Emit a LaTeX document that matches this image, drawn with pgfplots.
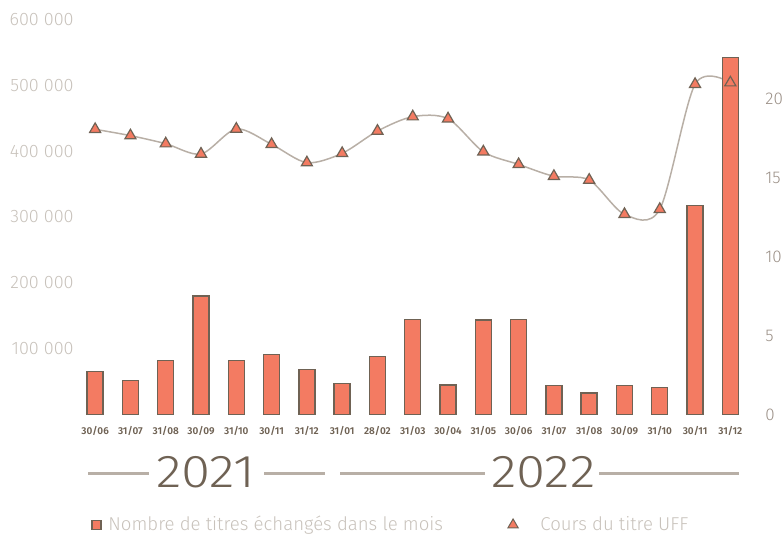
\documentclass[border=0pt]{standalone}
\usepackage{fontspec}
\setmainfont{Fira Sans}[UprightFont=* Light, BoldFont=* SemiBold]
\usepackage{pgfplots}
\usepackage{pgfplotstable}
\pgfplotsset{compat=1.18}

\definecolor{barfill}{HTML}{F37B62}
\definecolor{bardraw}{HTML}{6F6254}
\definecolor{linecol}{HTML}{B8AFA6}
\definecolor{lefttick}{HTML}{C8C2BB}
\definecolor{righttick}{HTML}{9B9087}
\definecolor{datecol}{HTML}{6F6254}

% idx, titres echanges, cours du titre
\pgfplotstableread{
idx titres cours
0  65000  18.05
1  51400  17.65
2  81800  17.14
3  180000 16.49
4  81800  18.07
5  90900  17.10
6  68100  15.94
7  46800  16.53
8  87800  17.94
9  144000 18.85
10 44800  18.72
11 143600 16.63
12 144700 15.83
13 43800  15.08
14 32700  14.84
15 44400  12.67
16 40700  12.99
17 317300 20.90
18 542200 21.00
}\data

\pgfplotsset{
  common/.style={
    scale only axis, width=335.25pt, height=197.5pt,
    at={(38.75pt,60.25pt)}, anchor=south west,
    xmin=-0.5, xmax=18.5,
    axis line style={draw=none}, major tick style={draw=none},
    scaled y ticks=false,
    clip=false,
  }
}

\begin{document}
\begin{tikzpicture}
\path[use as bounding box] (0,0) rectangle (392pt,267.5pt);

% courbe du cours (derriere les barres)
\begin{axis}[common,
    ymin=0, ymax=25,
    hide x axis,
    axis y line*=right,
    ytick={0,5,10,15,20}, yticklabels={0,5,10,15,20},
    yticklabel style={anchor=west, inner sep=0pt, xshift=8.5pt,
      font=\fontsize{8.5}{10}\selectfont, text=righttick}]
  \addplot[smooth, linecol, line width=0.75pt, no marks] table[x=idx, y=cours] {\data};
\end{axis}

% barres
\begin{axis}[common,
    ymin=0, ymax=600000,
    axis y line*=left,
    ytick={100000,200000,300000,400000,500000,600000},
    yticklabels={100 000,200 000,300 000,400 000,500 000,600 000},
    yticklabel style={anchor=east, inner sep=0pt, xshift=-1.75pt,
      font=\fontsize{9}{11}\selectfont, text=lefttick},
    xtick={0,...,18},
    xticklabels={30/06,31/07,31/08,30/09,31/10,30/11,31/12,31/01,28/02,31/03,
      30/04,31/05,30/06,31/07,31/08,30/09,31/10,30/11,31/12},
    xticklabel style={anchor=base, inner sep=0pt, yshift=-10.25pt,
      font=\bfseries\fontsize{5}{6}\selectfont, text=datecol},
    legend style={at={(0.0201,-0.2797)}, anchor=west, draw=none, fill=none,
      inner sep=0pt, font=\fontsize{9.3}{11}\selectfont, text=lefttick},
    legend image code/.code={\draw[fill=barfill, draw=bardraw, line width=0.6pt]
      (0pt,-2.25pt) rectangle (4.5pt,2.25pt);
      \path (5.9pt,0pt);}]
  \addplot[ybar, bar width=8pt, fill=barfill, draw=bardraw, line width=0.7pt]
    table[x=idx, y=titres] {\data};
  \addlegendentry{Nombre de titres échangés dans le mois}
\end{axis}

% marqueurs du cours (devant les barres)
\begin{axis}[common,
    ymin=0, ymax=25,
    hide axis,
    legend style={at={(0.6413,-0.2797)}, anchor=west, draw=none, fill=none,
      inner sep=0pt, font=\fontsize{9.3}{11}\selectfont, text=lefttick},
    legend image code/.code={\draw[mark=triangle*, mark size=3pt,
      mark options={fill=barfill, draw=bardraw, line width=0.5pt}]
      plot coordinates {(3pt,0pt)};
      \path (14.5pt,0pt);}]
  \addplot[only marks, mark=triangle*, mark size=3.2pt,
    mark options={fill=barfill, draw=bardraw, line width=0.6pt}]
    table[x=idx, y=cours] {\data};
  \addlegendentry{Cours du titre UFF}
\end{axis}

% annees
\begin{scope}[x=0.5pt, y=-0.5pt, shift={(0pt,267.5pt)}]
  \draw[linecol, line width=1.35pt] (88,473.3) -- (149,473.3) (264,473.3) -- (325,473.3);
  \draw[linecol, line width=1.35pt] (340,473.3) -- (485,473.3) (599,473.3) -- (739,473.3);
  \node[anchor=base, inner sep=0pt, text=datecol, xscale=1.15,
    font=\fontsize{23}{27}\selectfont] at (205.8,487.3) {2021};
  \node[anchor=base, inner sep=0pt, text=datecol, xscale=1.15,
    font=\fontsize{23}{27}\selectfont] at (543.3,487.3) {2022};
\end{scope}
\end{tikzpicture}
\end{document}
